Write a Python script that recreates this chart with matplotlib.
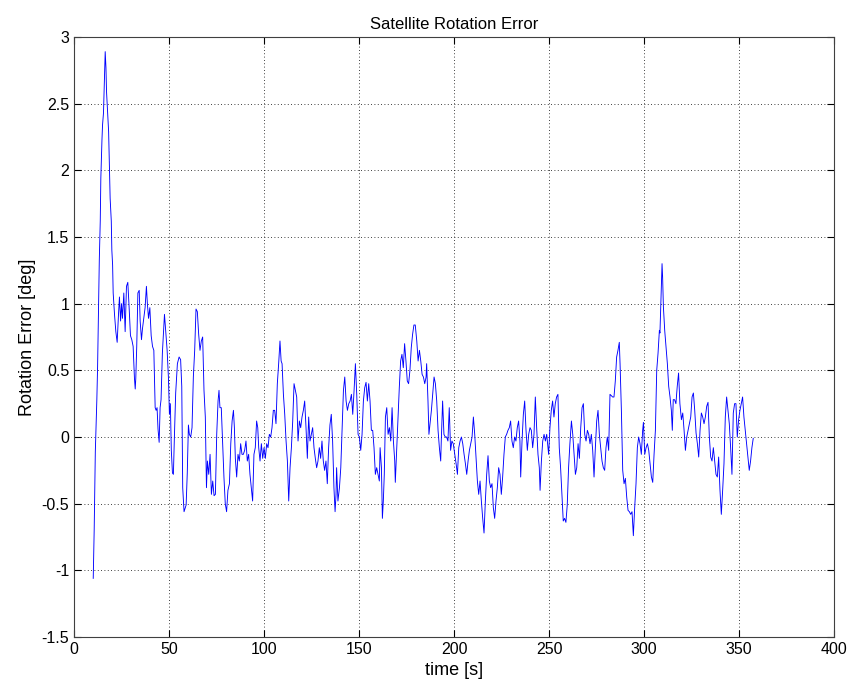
import matplotlib
matplotlib.use("Agg")
import numpy as np
import matplotlib.pyplot as plt

# Satellite rotation error in five stretches
t_a = [10.1, 10.6, 11.2, 12.0, 12.4, 12.9, 13.3, 13.8, 14.1, 14.7, 15.0, 15.5, 16.4, 16.8,
       17.1, 17.6, 18.2, 19.0, 19.6, 19.9, 20.3, 20.6, 21.3, 22.0, 22.7, 23.4, 23.9, 24.5,
       25.0, 25.5, 26.2, 26.9, 27.6, 28.3, 29.0, 29.7, 30.4, 31.1, 31.8, 32.2, 32.5, 33.0,
       33.6, 34.3, 34.8, 35.5, 36.0, 36.7, 37.4, 38.1, 38.6, 39.2, 39.9, 40.6, 41.3, 42.0,
       42.7, 43.2, 43.7, 44.2, 44.8, 45.3, 45.8, 46.5, 47.2, 47.6, 48.3, 49.0, 49.7, 50.2,
       50.7, 51.2, 51.8, 52.3, 52.8, 53.5, 54.4, 55.3]
err_a = [-1.06, -0.70, -0.11, 0.28, 0.53, 0.96, 1.33, 1.62, 1.94, 2.23, 2.34, 2.43, 2.89, 2.77,
         2.59, 2.45, 2.29, 1.79, 1.62, 1.40, 1.29, 1.08, 0.92, 0.79, 0.71, 0.92, 1.05, 0.87,
         1.00, 0.89, 1.08, 0.79, 1.13, 1.16, 0.97, 0.76, 0.73, 0.68, 0.44, 0.36, 0.44, 0.68,
         1.08, 1.10, 0.87, 0.73, 0.81, 0.89, 0.97, 1.13, 1.00, 0.89, 0.97, 0.76, 0.68, 0.65,
         0.22, 0.20, 0.22, 0.06, -0.04, 0.22, 0.28, 0.63, 0.81, 0.92, 0.79, 0.65, 0.44, 0.17,
         0.25, -0.10, -0.27, -0.28, -0.01, 0.33, 0.55, 0.60]

t_b = [56.1, 56.7, 57.2, 57.9, 59.0, 59.6, 60.2, 60.7, 61.4, 62.1, 62.8, 63.5, 64.2, 64.9,
       65.6, 66.3, 67.0, 67.7, 68.4, 69.1, 69.7, 70.2, 70.9, 71.6, 72.3, 73.0, 73.7, 74.4,
       75.1, 75.8, 76.3, 76.8, 77.5, 78.2, 78.9, 79.6, 80.3, 81.0, 81.8, 82.5, 83.2, 83.9,
       84.4, 84.9, 85.6, 86.3, 87.0, 87.7, 88.4, 89.1, 89.8, 90.5, 91.2, 91.9, 92.6, 93.3,
       94.0, 94.7, 95.4, 96.1, 96.7, 97.2, 97.9, 98.6, 99.3, 100.0, 100.7, 101.4, 102.1,
       102.8, 103.5, 104.2, 104.9, 105.6, 106.3, 107.0, 107.7, 108.4, 109.0, 109.5, 110.2,
       110.9, 111.6, 112.3, 113.0, 113.7, 114.4, 115.1, 115.8, 116.5, 117.2, 117.9, 118.6,
       119.3, 120.0, 120.7, 121.4, 122.1, 122.8, 123.5, 124.2, 124.9, 125.6, 126.3, 127.0,
       127.7, 128.4, 129.1, 129.8, 130.5, 131.2, 131.9, 132.6, 133.3, 134.0]
err_b = [0.58, 0.38, -0.38, -0.56, -0.51, -0.27, 0.09, 0.02, 0.00, 0.07, 0.45, 0.65, 0.96, 0.94,
         0.77, 0.65, 0.72, 0.75, 0.35, 0.15, -0.38, -0.18, -0.28, -0.13, -0.43, -0.33, -0.44,
         -0.43, 0.02, 0.27, 0.35, 0.22, 0.22, -0.03, -0.30, -0.50, -0.56, -0.40, -0.35, -0.05,
         0.12, 0.20, 0.07, -0.16, -0.30, -0.13, -0.18, -0.05, -0.13, -0.13, -0.10, -0.03,
         -0.18, -0.13, -0.28, -0.38, -0.48, -0.13, -0.08, 0.12, 0.07, -0.08, -0.18, -0.05,
         -0.16, -0.08, -0.16, -0.05, -0.08, 0.02, 0.00, 0.07, 0.20, 0.20, 0.10, 0.40, 0.55,
         0.72, 0.57, 0.55, 0.32, 0.17, -0.03, -0.18, -0.48, -0.23, -0.08, 0.12, 0.40, 0.35,
         0.30, -0.03, 0.12, 0.07, 0.15, 0.20, 0.27, 0.07, -0.16, 0.15, -0.03, 0.02, 0.07,
         -0.08, -0.16, -0.23, -0.18, -0.08, -0.16, -0.03, -0.18, -0.25, -0.18, -0.35, -0.08]

t_c = [134.7, 135.4, 136.1, 136.8, 137.4, 137.9, 138.2, 138.9, 139.7, 140.4, 141.1, 141.8,
       142.5, 143.2, 143.9, 144.6, 145.3, 146.0, 146.7, 147.4, 148.1, 148.8, 149.5, 150.2,
       150.9, 151.6, 152.3, 153.0, 153.7, 154.4, 155.1, 155.8, 156.5, 157.2, 157.9, 158.6,
       159.3, 160.0, 160.7, 161.1, 161.8, 162.3, 162.8, 163.3, 163.9, 164.6, 165.3, 166.0,
       166.7, 167.4, 168.1, 168.8, 169.1, 169.8, 170.5, 171.2, 171.9, 172.6, 173.3, 174.0,
       174.7, 175.4, 176.1, 176.8, 177.5, 178.2, 178.9, 179.6, 180.4, 181.1, 181.8, 182.5,
       183.2, 183.9, 184.6, 185.3, 185.6, 186.3, 186.8, 187.4, 188.1, 188.8, 189.5, 190.2,
       190.9, 191.6, 192.3, 193.0, 193.3, 194.0, 194.7, 195.4, 196.1, 196.8, 197.5, 198.2,
       198.9, 199.6, 200.4, 201.1, 201.8, 202.5, 203.2, 203.9, 204.6, 205.3, 206.0, 206.7,
       207.4, 208.1, 208.8, 209.5, 210.2, 210.9, 211.6, 212.3, 213.0, 213.7, 214.4, 215.1,
       215.8]
err_c = [0.09, 0.17, -0.03, -0.38, -0.56, -0.43, -0.23, -0.48, -0.38, -0.23, 0.07, 0.35, 0.45,
         0.27, 0.20, 0.25, 0.27, 0.32, 0.17, 0.35, 0.55, 0.32, 0.02, 0.00, -0.10, 0.02, 0.27,
         0.37, 0.41, 0.27, 0.40, 0.27, 0.05, 0.05, -0.08, -0.28, -0.23, -0.28, -0.33, -0.08,
         -0.23, -0.61, -0.48, -0.28, 0.15, 0.22, 0.02, 0.07, -0.03, 0.22, -0.03, -0.18, -0.34,
         -0.10, 0.15, 0.37, 0.57, 0.62, 0.52, 0.70, 0.57, 0.42, 0.40, 0.50, 0.67, 0.77, 0.84,
         0.84, 0.72, 0.57, 0.65, 0.57, 0.47, 0.45, 0.40, 0.45, 0.55, 0.27, 0.02, 0.10, 0.20,
         0.32, 0.45, 0.40, 0.27, 0.05, -0.08, -0.18, -0.03, 0.27, 0.02, 0.00, 0.00, -0.03,
         0.22, -0.10, -0.03, -0.05, -0.13, -0.20, -0.28, -0.08, -0.03, 0.00, -0.05, -0.13,
         -0.20, -0.28, -0.18, -0.10, -0.05, 0.00, 0.15, 0.02, -0.16, -0.33, -0.43, -0.33,
         -0.48, -0.61, -0.72]

t_d = [216.5, 217.2, 217.9, 218.6, 219.3, 220.0, 220.7, 221.4, 222.1, 222.8, 223.5, 224.2,
       224.9, 225.6, 226.3, 227.0, 227.7, 228.4, 229.1, 229.8, 230.5, 231.2, 231.9, 232.6,
       233.3, 234.0, 234.7, 235.1, 235.8, 236.5, 237.2, 237.9, 238.6, 239.3, 240.0, 240.7,
       241.4, 242.1, 242.8, 243.5, 244.2, 244.9, 245.3, 246.0, 246.7, 247.4, 248.1, 248.8,
       249.5, 249.8, 250.5, 251.2, 251.9, 252.6, 253.3, 254.0, 254.7, 255.4, 256.1, 256.8,
       257.5, 258.2, 258.9, 259.6, 260.3, 261.0, 261.8, 262.5, 263.2, 263.9, 264.6, 265.3,
       266.0, 266.7, 267.4, 268.1, 268.8, 269.5, 270.2, 270.9, 271.6, 272.3, 273.0, 273.7,
       274.4, 275.1, 275.8, 276.5, 277.2, 277.9, 278.6, 279.3, 280.0, 280.7, 281.4, 282.1,
       282.8, 283.5, 284.2, 284.9, 285.6, 286.3, 287.0]
err_d = [-0.48, -0.28, -0.14, -0.33, -0.38, -0.35, -0.53, -0.61, -0.48, -0.38, -0.23, -0.28,
         -0.43, -0.30, -0.13, 0.00, 0.02, 0.05, 0.07, 0.12, -0.03, -0.08, 0.00, -0.03, 0.07,
         0.12, -0.03, -0.30, -0.03, 0.17, 0.27, 0.05, -0.10, 0.02, 0.07, 0.05, -0.08, 0.02,
         0.30, 0.07, -0.13, -0.23, -0.40, -0.18, -0.03, 0.02, -0.03, 0.02, -0.08, -0.13, 0.07,
         0.20, 0.27, 0.15, 0.25, 0.30, 0.32, -0.08, -0.23, -0.43, -0.63, -0.61, -0.64, -0.51,
         -0.23, -0.05, 0.12, 0.02, -0.13, -0.28, -0.23, -0.05, -0.16, 0.07, 0.22, 0.25, 0.02,
         -0.03, 0.05, 0.02, -0.05, 0.02, -0.10, -0.30, -0.08, 0.12, 0.20, 0.02, -0.08, -0.18,
         -0.23, -0.25, -0.08, 0.00, -0.10, 0.32, 0.31, 0.30, 0.30, 0.42, 0.60, 0.65, 0.71]

t_e = [287.4, 288.1, 288.8, 289.5, 290.2, 290.9, 291.6, 292.3, 293.0, 293.7, 294.4, 295.1,
       295.8, 296.5, 297.2, 297.9, 298.6, 299.3, 299.7, 300.4, 301.1, 301.8, 302.5, 303.2,
       303.9, 304.6, 305.3, 306.0, 306.7, 307.4, 308.1, 308.4, 309.0, 309.5, 309.8, 310.2,
       310.9, 311.6, 312.3, 313.0, 313.7, 314.4, 314.9, 315.4, 316.1, 316.8, 317.5, 318.2,
       318.9, 319.7, 320.4, 321.1, 321.8, 322.5, 323.2, 323.9, 324.6, 325.3, 326.0, 326.7,
       327.4, 328.1, 328.8, 329.5, 330.2, 330.9, 331.6, 332.3, 333.0, 333.7, 334.4, 335.1,
       335.8, 336.5, 337.2, 337.9, 338.6, 339.3, 340.0, 340.7, 341.4, 342.1, 342.8, 343.5,
       344.2, 344.9, 345.6, 346.3, 347.0, 347.7, 348.4, 349.1, 349.8, 350.5, 351.2, 351.9,
       352.6, 353.3, 354.0, 354.7, 355.4, 356.1, 356.8, 357.5]
err_e = [0.55, 0.20, -0.25, -0.35, -0.31, -0.45, -0.55, -0.56, -0.58, -0.56, -0.74, -0.53,
         -0.35, -0.08, 0.00, -0.05, -0.13, 0.05, 0.11, -0.13, -0.08, -0.05, -0.10, -0.20,
         -0.30, -0.34, -0.13, 0.05, 0.50, 0.63, 0.80, 0.78, 1.05, 1.30, 1.20, 0.98, 0.80, 0.68,
         0.55, 0.38, 0.30, 0.20, 0.05, 0.28, 0.28, 0.25, 0.38, 0.48, 0.25, 0.13, 0.18, 0.05,
         -0.10, 0.00, 0.05, 0.10, 0.15, 0.30, 0.33, 0.20, 0.03, -0.05, -0.15, 0.05, 0.18, 0.15,
         0.10, 0.15, 0.23, 0.26, 0.00, -0.15, -0.18, -0.08, -0.18, -0.28, -0.30, -0.15, -0.40,
         -0.58, -0.40, -0.20, 0.15, 0.30, 0.20, 0.10, -0.08, -0.28, 0.18, 0.25, 0.25, 0.00,
         0.13, 0.20, 0.25, 0.30, 0.15, 0.05, -0.05, -0.15, -0.25, -0.18, -0.08, -0.01]

time = np.concatenate([t_a, t_b, t_c, t_d, t_e])
err = np.concatenate([err_a, err_b, err_c, err_d, err_e])

plt.rcParams['font.family'] = ['Liberation Sans', 'DejaVu Sans']

fig = plt.figure(figsize=(8.53, 6.91), dpi=100)
ax = fig.add_axes([0.0868, 0.0781, 0.8909, 0.8684])

ax.plot(time, err, color='b', linewidth=0.65)

ax.set_xlim(0, 400)
ax.set_ylim(-1.5, 3)
ax.set_xticks(np.arange(0, 401, 50))
ax.set_yticks(np.arange(-1.5, 3.01, 0.5))
ax.set_yticklabels(['-1.5', '-1', '-0.5', '0', '0.5', '1', '1.5', '2', '2.5', '3'])
ax.grid(True, linestyle=(0, (1, 3)), color='k', linewidth=0.6)
ax.tick_params(direction='in', top=True, right=True, labelsize=11.5, length=5)
for s in ax.spines.values():
    s.set_color('#404040')

ax.set_title("Satellite Rotation Error", fontsize=12)
ax.set_xlabel("time [s]", fontsize=13)
ax.set_ylabel("Rotation Error [deg]", fontsize=13)

fig.savefig("out.png", dpi=100)
